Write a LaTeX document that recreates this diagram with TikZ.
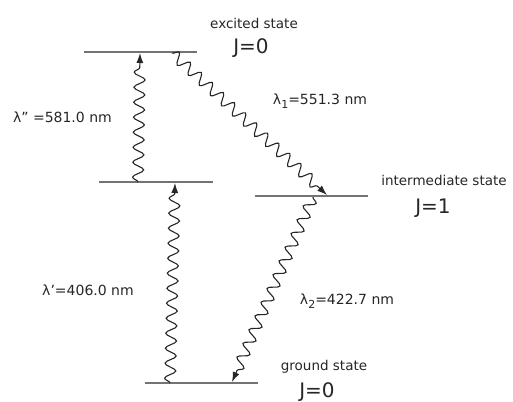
\documentclass[tikz,border=0pt]{standalone}
\usepackage{fontspec}
\setmainfont{DejaVu Sans}
\usetikzlibrary{arrows.meta,decorations.pathmorphing}
\definecolor{LevelGray}{rgb}{0.45, 0.45, 0.45}
\definecolor{Ink}{rgb}{0.15, 0.15, 0.15}
\newcommand{\lsub}[1]{\raisebox{-3.5pt}{\fontsize{11}{11}\selectfont #1}}

\begin{document}
\begin{tikzpicture}[
  x=1pt, y=-1pt,
  every node/.style={inner sep=0pt, text=Ink},
  level/.style={draw=LevelGray, line width=1.6pt},
  photon/.style={draw=Ink, line width=1.1pt, decorate,
    decoration={snake, amplitude=5.5pt, segment length=15pt, post length=9pt},
    -{Latex[length=10pt, width=7pt]}},
  statelabel/.style={font=\fontsize{13.5}{15}\selectfont},
  jlabel/.style={font=\fontsize{20}{22}\selectfont},
  wavelabel/.style={font=\fontsize{14}{16}\selectfont}
]
\useasboundingbox (0,0) rectangle (513,401);

% ============================================================
% Energy levels
% ============================================================
\draw[level] (84,52) -- (197,52);    % excited
\draw[level] (99,182) -- (213,182);  % lower of the two-step
\draw[level] (255,196) -- (368,196); % intermediate
\draw[level] (145,383) -- (258,383); % ground

% end points of the transitions on the levels
\coordinate (exA) at (140,53);
\coordinate (exB) at (172,53);
\coordinate (loA) at (138,182);
\coordinate (loB) at (175,183);
\coordinate (inA) at (327,195);
\coordinate (inB) at (313,197);
\coordinate (grA) at (170,383);
\coordinate (grB) at (232,382);

% ============================================================
% Transitions
% ============================================================
\draw[photon] (loA) -- (exA);
\draw[photon] (exB) -- (inA);
\draw[photon] (grA) -- (loB);
\draw[photon] (inB) -- (grB);

% ============================================================
% Labels
% ============================================================
\node[statelabel] (exname) at (254,23) {excited state};
\node[jlabel] (exj) at (251,48) {J=0};
\node[statelabel] (inname) at (444,180) {intermediate state};
\node[jlabel] (inj) at (433,208) {J=1};
\node[statelabel] (grname) at (324,367) {ground state};
\node[jlabel] (grj) at (317,392) {J=0};

\node[wavelabel, anchor=east] (lamdd) at (112,117) {λ\symbol{34} =581.0 nm};
\node[wavelabel] (lamd) at (88,290) {λ\symbol{39}=406.0 nm};
\node[wavelabel] (lamone) at (320,101) {λ\lsub{1}=551.3 nm};
\node[wavelabel] (lamtwo) at (347,301) {λ\lsub{2}=422.7 nm};

\end{tikzpicture}
\end{document}
